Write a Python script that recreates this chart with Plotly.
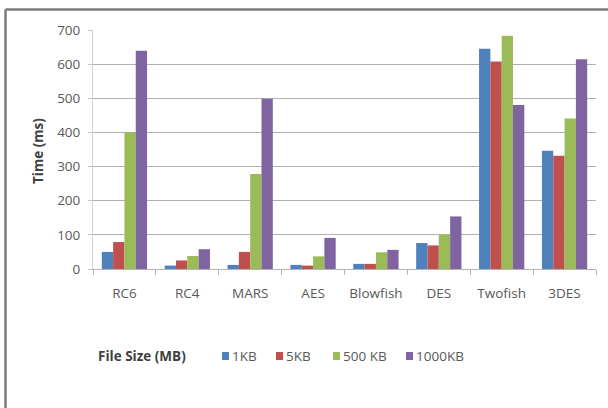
import plotly.graph_objects as go

# Encryption time per algorithm for each file size
algorithms = ["RC6", "RC4", "MARS", "AES", "Blowfish", "DES", "Twofish", "3DES"]
sizes = ["1KB", "5KB", "500 KB", "1000KB"]
time_1kb = [50, 10, 12, 12, 15, 76, 645, 346]
time_5kb = [79, 25, 50, 10, 15, 69, 608, 332]
time_500kb = [401, 38, 278, 37, 49, 100, 683, 441]
time_1000kb = [639, 58, 499, 91, 56, 154, 480, 614]
series = [time_1kb, time_5kb, time_500kb, time_1000kb]
colors = ["#4F81BD", "#C0504D", "#9BBB59", "#8064A2"]

W, H = 608, 408
ML, MR, MT, MB = 93, 12, 30, 139
PW, PH = W - ML - MR, H - MT - MB


def px_x(p):
    return (p - ML) / PW


def px_y(p):
    return (H - MB - p) / PH


fig = go.Figure()
for name, vals, col in zip(sizes, series, colors):
    fig.add_trace(go.Bar(x=algorithms, y=vals, name=name, showlegend=False,
                         marker=dict(color=col, line=dict(width=0))))

font = "Open Sans, Liberation Sans, sans-serif"
grey = "#595959"
dark = "#404040"

fig.update_layout(
    width=W,
    height=H,
    margin=dict(l=ML, r=MR, t=MT, b=MB, autoexpand=False),
    paper_bgcolor="white",
    plot_bgcolor="white",
    barmode="group",
    bargap=0.28,
    bargroupgap=0,
    font=dict(family=font, size=12, color=grey),
    xaxis=dict(
        showgrid=False,
        showline=True,
        linecolor="#b3b3b3",
        linewidth=1,
        ticks="outside",
        tickson="boundaries",
        ticklen=5,
        tickcolor="#b3b3b3",
        ticklabelstandoff=12,
        tickfont=dict(size=13.5, color=grey),
    ),
    yaxis=dict(
        range=[0, 700],
        tickvals=[0, 100, 200, 300, 400, 500, 600, 700],
        showgrid=True,
        gridcolor="#b0b0b0",
        gridwidth=1.2,
        showline=True,
        linecolor="#d0d0d0",
        ticks="outside",
        ticklen=4,
        tickcolor="#c8c8c8",
        ticklabelstandoff=5,
        zeroline=False,
        tickfont=dict(size=13.5, color=grey),
    ),
    showlegend=False,
)

# y-axis title
fig.add_annotation(
    text="<b>Time (ms)</b>",
    textangle=-90,
    xref="paper", yref="paper",
    x=px_x(38), y=px_y(151),
    xanchor="center", yanchor="middle",
    showarrow=False,
    font=dict(size=13.5, color=dark, family=font),
)

# legend: title, colour swatches and series names
legend_y = 356
fig.add_annotation(
    text="<b>File Size (MB)</b>",
    xref="paper", yref="paper",
    x=px_x(96), y=px_y(legend_y),
    xanchor="left", yanchor="middle",
    showarrow=False,
    font=dict(size=13.5, color=dark, family=font),
)
swatch_left = [222, 276, 333, 406]
for name, col, sx in zip(sizes, colors, swatch_left):
    fig.add_shape(type="rect", xref="paper", yref="paper",
                  x0=px_x(sx), x1=px_x(sx + 7),
                  y0=px_y(legend_y + 4), y1=px_y(legend_y - 4),
                  fillcolor=col, line=dict(width=0))
    fig.add_annotation(
        text=name,
        xref="paper", yref="paper",
        x=px_x(sx + 8), y=px_y(legend_y),
        xanchor="left", yanchor="middle",
        showarrow=False,
        font=dict(size=13.5, color=grey, family=font),
    )

# frame lines along the top and left edges
fig.add_shape(type="line", xref="paper", yref="paper",
              x0=px_x(5.5), x1=px_x(W), y0=px_y(9.5), y1=px_y(9.5),
              line=dict(color="#7a7a7a", width=2.5))
fig.add_shape(type="line", xref="paper", yref="paper",
              x0=px_x(5.5), x1=px_x(5.5), y0=px_y(9.5), y1=px_y(H),
              line=dict(color="#7a7a7a", width=2.5))

fig.write_html("out.html")
